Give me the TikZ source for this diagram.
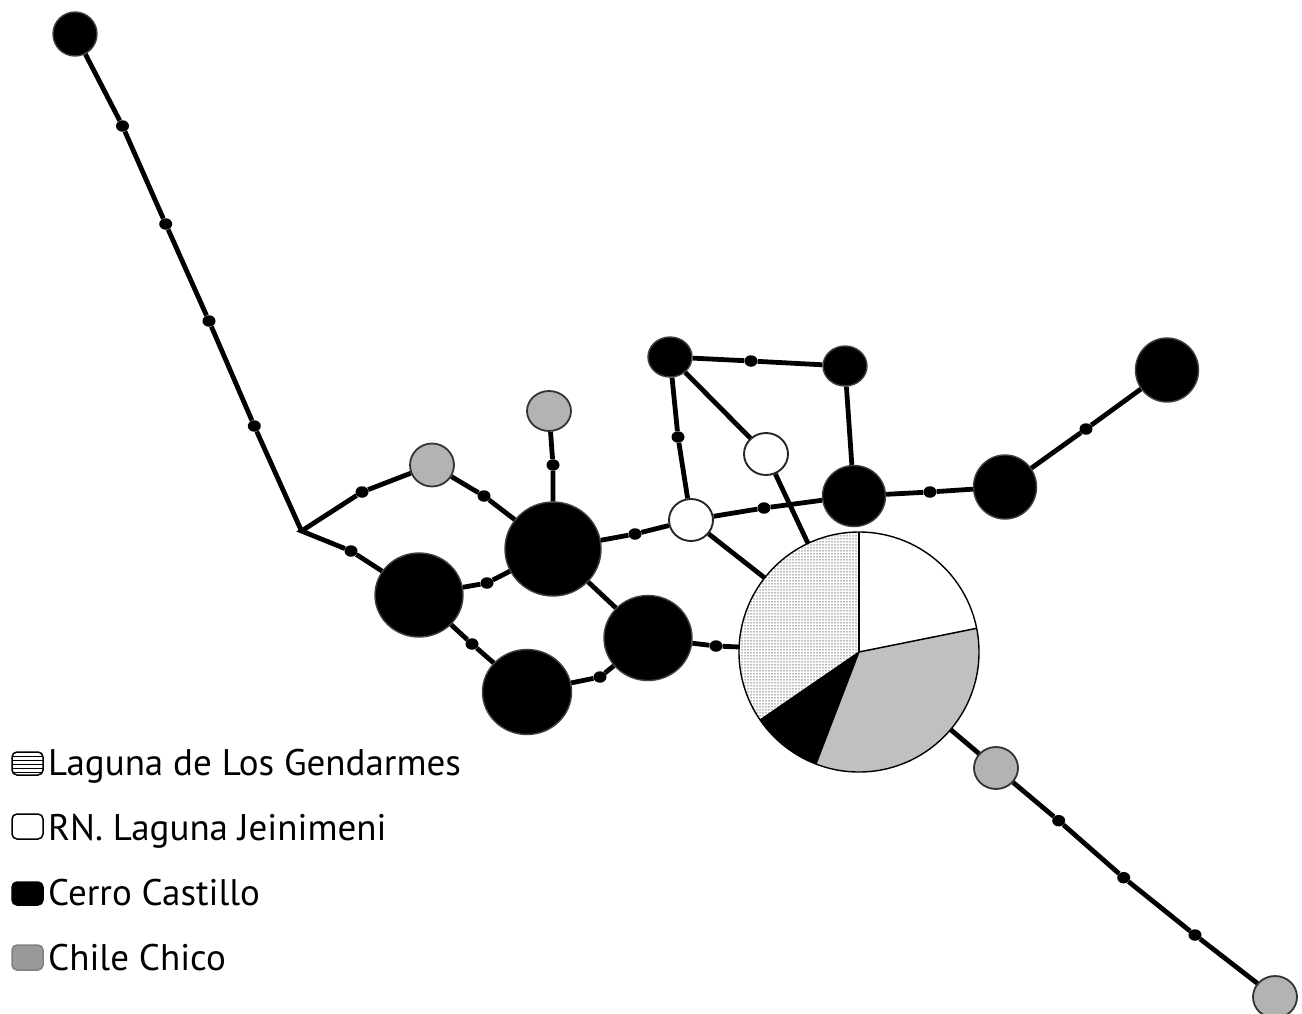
\documentclass[tikz,border=0pt]{standalone}
\usepackage{fontspec}
\setmainfont{PT Sans}
\usetikzlibrary{shapes.geometric,patterns}
\pgfdeclarepatternformonly{finedots}{\pgfqpoint{0pt}{0pt}}{\pgfqpoint{3pt}{3.3pt}}{\pgfqpoint{3pt}{3.3pt}}{%
  \pgfpathrectangle{\pgfqpoint{0.4pt}{0.8pt}}{\pgfqpoint{1.8pt}{1.1pt}}\pgfusepath{fill}}
\definecolor{nodegray}{HTML}{B3B3B3}
\definecolor{piegray}{HTML}{C0C0C0}
\definecolor{leggray}{HTML}{999999}
\begin{document}
\begin{tikzpicture}[x=1pt,y=-1pt,
  blk/.style 2 args={ellipse,inner sep=0pt,minimum width=#1,minimum height=#2,fill=black,draw=black!75,line width=1.4pt},
  gry/.style 2 args={ellipse,inner sep=0pt,minimum width=#1,minimum height=#2,fill=nodegray,draw=black!80,line width=1.8pt},
  wht/.style 2 args={ellipse,inner sep=0pt,minimum width=#1,minimum height=#2,fill=white,draw=black!85,line width=1.9pt},
  mdot/.style={ellipse,inner sep=0pt,minimum width=13pt,minimum height=11.5pt,fill=black},
  edge/.style={line width=4.8pt},
  swatch/.style={rounded corners=5pt,line width=1.5pt},
  legtext/.style={anchor=base west,inner sep=0pt,font=\fontsize{37}{40}\selectfont}]
\useasboundingbox (0,0) rectangle (1302,1013);
% haplotype nodes
\node[blk={44pt}{44pt}] (A) at (75,34) {};
\node[gry={44pt}{43pt}] (G1) at (432,465) {};
\node[gry={44pt}{40pt}] (G2) at (549,411) {};
\node[blk={88pt}{84pt}] (B1) at (419,595) {};
\node[blk={96pt}{94pt}] (B2) at (553,549) {};
\node[blk={89pt}{85pt}] (B3) at (527,692) {};
\node[blk={88pt}{85pt}] (B4) at (648,638) {};
\node[wht={44pt}{42pt}] (W1) at (691,520) {};
\node[blk={44pt}{40pt}] (B5) at (670,357) {};
\node[blk={44pt}{40pt}] (B6) at (845,366) {};
\node[wht={44pt}{42pt}] (W2) at (766,454) {};
\node[blk={63pt}{61pt}] (B7) at (854,496) {};
\node[blk={63pt}{64pt}] (B8) at (1005,487) {};
\node[blk={63pt}{64pt}] (B9) at (1167,370) {};
\node[circle,inner sep=0pt,minimum size=240pt] (P) at (859,652) {};
\node[gry={44pt}{42pt}] (G3) at (996,768) {};
\node[gry={44pt}{42pt}] (G4) at (1275,997) {};
\coordinate (J) at (301.5,531);
% mutation dots
\node[mdot] (a1) at (122.5,126) {};
\node[mdot] (a2) at (165.7,224) {};
\node[mdot] (a3) at (209,321) {};
\node[mdot] (a4) at (254.3,426) {};
\node[mdot] (j1) at (362,492) {};
\node[mdot] (j2) at (351,551) {};
\node[mdot] (g1) at (484,496) {};
\node[mdot] (g2) at (553,465) {};
\node[mdot] (b12) at (487,583) {};
\node[mdot] (b13) at (472,644) {};
\node[mdot] (b34) at (600,677) {};
\node[mdot] (b4p) at (716,646) {};
\node[mdot] (b2w) at (635,534) {};
\node[mdot] (w5) at (678,437) {};
\node[mdot] (b56) at (751,361) {};
\node[mdot] (w17) at (764,508) {};
\node[mdot] (b78) at (930,492) {};
\node[mdot] (b89) at (1086,429) {};
\node[mdot] (c1) at (1058.7,820.7) {};
\node[mdot] (c2) at (1123.7,877.7) {};
\node[mdot] (c3) at (1195,935) {};
% connectors
\draw[edge] (A) -- (a1) -- (a2) -- (a3) -- (a4) -- (J);
\draw[edge,line join=miter] (G1) -- (j1) -- (J) -- (j2) -- (B1);
\draw[edge] (G1) -- (g1) -- (B2);
\draw[edge] (G2) -- (g2) -- (B2);
\draw[edge] (B1) -- (b12) -- (B2);
\draw[edge] (B1) -- (b13) -- (B3);
\draw[edge] (B3) -- (b34) -- (B4);
\draw[edge] (B2) -- (B4);
\draw[edge] (B4) -- (b4p) -- (P);
\draw[edge] (B2) -- (b2w) -- (W1);
\draw[edge] (W1) -- (P);
\draw[edge] (W1) -- (w5) -- (B5);
\draw[edge] (B5) -- (b56) -- (B6);
\draw[edge] (B5) -- (W2);
\draw[edge] (W2) -- (P);
\draw[edge] (B6) -- (B7);
\draw[edge] (W1) -- (w17) -- (B7);
\draw[edge] (B7) -- (b78) -- (B8);
\draw[edge] (B8) -- (b89) -- (B9);
\draw[edge] (P) -- (G3);
\draw[edge] (G3) -- (c1) -- (c2) -- (c3) -- (G4);
% pie chart (visual angles negated because y points down)
\fill[white] (P.center) -- ++(-11.4:120) arc[start angle=-11.4,end angle=-90,radius=120] -- cycle;
\fill[white] (P.center) -- ++(-90:120) arc[start angle=-90,end angle=-214.5,radius=120] -- cycle;
\fill[pattern=finedots,pattern color=black!60] (P.center) -- ++(-90:120) arc[start angle=-90,end angle=-214.5,radius=120] -- cycle;
\fill[black] (P.center) -- ++(-214.5:120) arc[start angle=-214.5,end angle=-249,radius=120] -- cycle;
\fill[piegray] (P.center) -- ++(-249:120) arc[start angle=-249,end angle=-371.4,radius=120] -- cycle;
\draw[line width=1.1pt] (P.center) -- ++(-90:120);
\draw[line width=1.5pt] (P.center) -- ++(-11.4:120);
\draw[line width=1.3pt] (P.center) -- ++(-214.5:120);
\draw[line width=1.3pt] (P.center) -- ++(-249:120);
\draw[line width=1.4pt] (P.center) circle[radius=120];
% legend
\begin{scope}
  \clip[rounded corners=5pt] (12,752) rectangle (43,775);
  \foreach \yy in {756,760,764,768,772} \draw[line width=1pt] (12,\yy) -- (43,\yy);
\end{scope}
\draw[swatch] (12,752) rectangle (43,775);
\draw[swatch,fill=white] (12,814) rectangle (43,839);
\draw[swatch,fill=black] (12,882) rectangle (43,905);
\draw[swatch,fill=leggray,draw=black!50] (12,945) rectangle (43,970);
\node[legtext] (L1) at (48,775) {Laguna de Los Gendarmes};
\node[legtext] (L2) at (48,840) {RN. Laguna Jeinimeni};
\node[legtext] (L3) at (48,905) {Cerro Castillo};
\node[legtext] (L4) at (48,970) {Chile Chico};
\end{tikzpicture}
\end{document}
